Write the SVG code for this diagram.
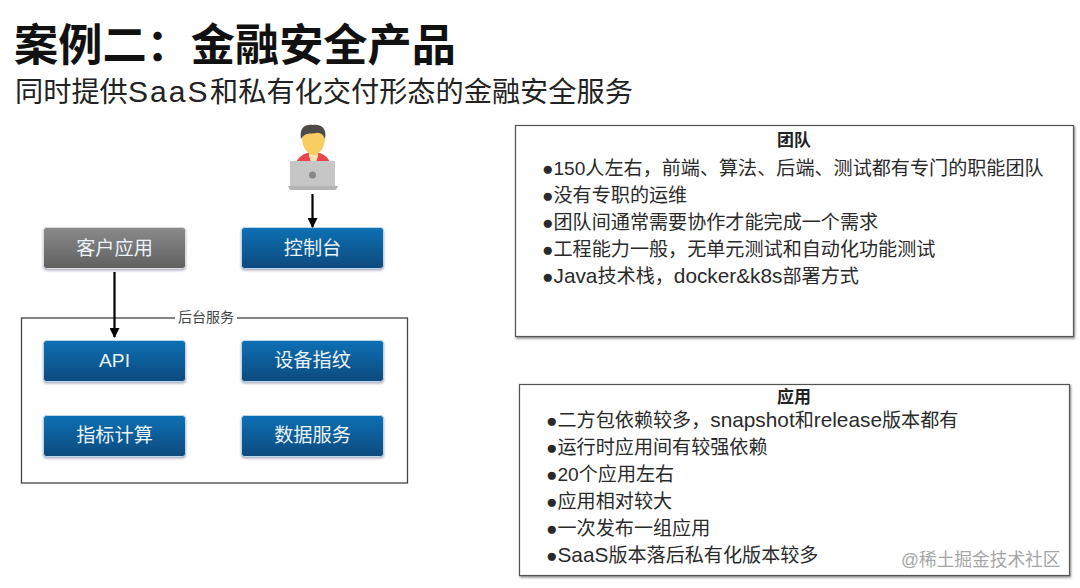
<svg xmlns="http://www.w3.org/2000/svg" width="1080" height="588" viewBox="0 0 1080 588">
<style>
text{font-family:"Liberation Sans","Noto Sans CJK SC",sans-serif}
.n{fill:url(#blue);stroke:#b9d8ee;stroke-width:1;filter:url(#bs)}
.g{fill:url(#gray);stroke:#ddd;stroke-width:1;filter:url(#bs)}
.l{fill:#e9f3fa;font-size:19.2px;text-anchor:middle}
.b{fill:#2a2a2a;font-size:19.1px}
.t{font-size:20.8px}
.h{fill:#222;font-size:17px;font-weight:bold;text-anchor:middle}
.c{stroke:#000;stroke-width:2.2;fill:none;marker-end:url(#ah)}
.box{fill:#fff;stroke:#555;stroke-width:1.2;filter:url(#sh)}
</style>
<defs>
<linearGradient id="blue" x1="0" y1="0" x2="0" y2="1"><stop offset="0" stop-color="#0a70b4"/><stop offset="1" stop-color="#0c4a7e"/></linearGradient>
<linearGradient id="gray" x1="0" y1="0" x2="0" y2="1"><stop offset="0" stop-color="#8a8a8a"/><stop offset="1" stop-color="#606060"/></linearGradient>
<marker id="ah" markerUnits="userSpaceOnUse" markerWidth="10" markerHeight="10" refX="9" refY="5" orient="auto"><path d="M0 0L10 5L0 10z" fill="#000"/></marker>
<filter id="sh" x="-3%" y="-3%" width="106%" height="106%"><feDropShadow dx="1" dy="1.5" stdDeviation="0.8" flood-color="#888"/></filter>
<filter id="bs" x="-5%" y="-10%" width="110%" height="125%"><feDropShadow dx="0" dy="1.5" stdDeviation="1" flood-color="#aab"/></filter>
</defs>
<rect width="1080" height="588" fill="#fff"/>
<text x="14" y="61" font-size="44.2" font-weight="bold" fill="#111">案例二：金融安全产品</text>
<text x="15" y="102" font-size="28.2" fill="#222">同时提供<tspan x="128" font-size="30" letter-spacing="2">SaaS</tspan><tspan x="210">和私有化交付形态的金融安全服务</tspan></text>

<g id="backend"><rect x="21.500" y="318" width="386" height="165" fill="none" stroke="#444" stroke-width="1.300"/><rect x="175" y="310" width="62" height="16" fill="#fff"/><text x="206" y="322" font-size="14" text-anchor="middle" fill="#444">后台服务</text></g>

<g id="user">
<path d="M296 163Q298 156 307 153H320Q328 156 330 163z" fill="#e8474f"/>
<path d="M309 150H318V156L316 162H311L309 156z" fill="#f6dfb0"/>
<path d="M302 138C302 128 325 128 325 138C325 149 318 155 313.500 155C309 155 302 149 302 138z" fill="#f8cd62"/>
<path d="M301 139C299 128 305 124 313 125C322 124 327 129 325 139C323 134 320 132 316 133C311 134 305 132 301 139z" fill="#4d4a48"/>
<rect x="290" y="161" width="45" height="26" fill="#c6c6c6"/>
<path d="M288 186H338L336 190H290z" fill="#b4b4b4"/>
<circle cx="312.500" cy="175" r="3.500" fill="#888"/>
</g>
<g id="client"><rect class="g" x="43.500" y="227.500" width="142" height="41" rx="3"/><text class="l" x="114.500" y="255">客户应用</text></g>
<g id="console"><rect class="n" x="241.500" y="227.500" width="142" height="41" rx="3"/><text class="l" x="312.500" y="255">控制台</text></g>
<g id="api"><rect class="n" x="43.500" y="340.500" width="142" height="41" rx="3"/><text class="l" x="114.500" y="367" font-size="20">API</text></g>
<g id="device"><rect class="n" x="241.500" y="340.500" width="142" height="41" rx="3"/><text class="l" x="312.500" y="367">设备指纹</text></g>
<g id="metrics"><rect class="n" x="43.500" y="415.500" width="142" height="41" rx="3"/><text class="l" x="114.500" y="442">指标计算</text></g>
<g id="data"><rect class="n" x="241.500" y="415.500" width="142" height="41" rx="3"/><text class="l" x="312.500" y="442">数据服务</text></g>

<g id="connectors">
<path class="c" d="M312.500 194V227"/>
<path class="c" d="M114.500 272V337"/>
</g>

<g id="team"><rect class="box" x="515.500" y="125.500" width="558" height="211"/>
<text class="h" x="794" y="146">团队</text>
<text class="b" x="542" y="174.500">●<tspan x="553.500">150人左右，前端、算法、后端、测试都有专门的职能团队</tspan></text>
<text class="b" x="542" y="201.500">●<tspan x="553.500">没有专职的运维</tspan></text>
<text class="b" x="542" y="228.500">●<tspan x="553.500">团队间通常需要协作才能完成一个需求</tspan></text>
<text class="b" x="542" y="255.500">●<tspan x="553.500">工程能力一般，无单元测试和自动化功能测试</tspan></text>
<text class="b" x="542" y="282.500">●<tspan x="553.500" class="t">Java</tspan>技术栈，<tspan class="t">docker&amp;k8s</tspan>部署方式</text>
</g>
<g id="app"><rect class="box" x="519.500" y="384.500" width="550" height="191"/>
<text class="h" x="794" y="403">应用</text>
<text class="b" x="546" y="427">●<tspan x="557.500">二方包依赖较多，</tspan><tspan class="t">snapshot</tspan>和<tspan class="t">release</tspan>版本都有</text>
<text class="b" x="546" y="454">●<tspan x="557.500">运行时应用间有较强依赖</tspan></text>
<text class="b" x="546" y="481">●<tspan x="557.500">20个应用左右</tspan></text>
<text class="b" x="546" y="508">●<tspan x="557.500">应用相对较大</tspan></text>
<text class="b" x="546" y="535">●<tspan x="557.500">一次发布一组应用</tspan></text>
<text class="b" x="546" y="562">●<tspan x="557.500" class="t">SaaS</tspan>版本落后私有化版本较多</text>
</g>
<text x="901" y="566" font-size="17.700" fill="#a6a6a6">@稀土掘金技术社区</text>
</svg>
